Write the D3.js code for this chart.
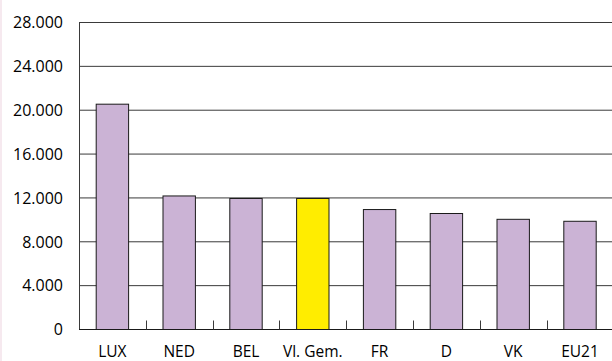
<!DOCTYPE html>
<html><head><meta charset="utf-8">
<script src="https://cdn.jsdelivr.net/npm/d3@7"></script>
<style>
html,body{margin:0;padding:0;background:#fff;}
svg{display:block;}
text{font-family:"Open Sans",sans-serif;fill:#000;}
</style></head>
<body>
<svg id="c" width="612" height="361"></svg>
<script>
const categories = ["LUX","NED","BEL","Vl. Gem.","FR","D","VK","EU21"];
const values = [20550, 12180, 11950, 11950, 10940, 10580, 10050, 9870];
const highlight = ["Vl. Gem."];
const yTicks = [0,4000,8000,12000,16000,20000,24000,28000];
const yTickLabels = ["0","4.000","8.000","12.000","16.000","20.000","24.000","28.000"];

(function(){
const svg = d3.select("#c");
const pLeft = 79, pRight = 613.4, pTop = 22.5, pBottom = 329.5;

svg.append("rect").attr("x",0).attr("y",0).attr("width",2).attr("height",361).attr("fill","#f6e9ef");

const x = d3.scaleBand().domain(categories).range([pLeft, pRight]).paddingInner(0.515).paddingOuter(0.2575);
const y = d3.scaleLinear().domain([0,28000]).range([pBottom, pTop]);

svg.append("g").selectAll("line").data(yTicks).join("line")
  .attr("x1", pLeft).attr("x2", 612)
  .attr("y1", d=>y(d)).attr("y2", d=>y(d))
  .attr("stroke","#3a3a3a").attr("stroke-width",1);

svg.append("g").selectAll("text").data(yTicks).join("text")
  .attr("x", 63).attr("y", d=>y(d)).attr("dy","0.36em")
  .attr("text-anchor","end").attr("font-size","16px")
  .text((d,i)=>yTickLabels[i]);

svg.append("g").selectAll("rect").data(categories).join("rect")
  .attr("x", d=>x(d)).attr("width", x.bandwidth())
  .attr("y", (d,i)=>y(values[i])).attr("height",(d,i)=>y(0)-y(values[i]))
  .attr("fill", d=>highlight.includes(d) ? "#FFED00" : "#CBB3D5")
  .attr("stroke","#1a1a1a").attr("stroke-width",1);

svg.append("line").attr("x1",pLeft+0.5).attr("x2",pLeft+0.5).attr("y1",pTop).attr("y2",pBottom)
  .attr("stroke","#3a3a3a");
svg.append("line").attr("x1",pLeft).attr("x2",612).attr("y1",pBottom).attr("y2",pBottom)
  .attr("stroke","#1a1a1a");

const step = x.step();
svg.append("g").selectAll("line").data(categories.slice(1)).join("line")
  .attr("x1", (d,i)=>Math.round(pLeft + step*(i+1))+0.5)
  .attr("x2", (d,i)=>Math.round(pLeft + step*(i+1))+0.5)
  .attr("y1", pBottom).attr("y2", pBottom-9)
  .attr("stroke","#3a3a3a");

svg.append("g").selectAll("text").data(categories).join("text")
  .attr("x", d=>x(d)+x.bandwidth()/2).attr("y", 357)
  .attr("text-anchor","middle").attr("font-size","15.5px")
  .text(d=>d);
})();
</script>
</body></html>
